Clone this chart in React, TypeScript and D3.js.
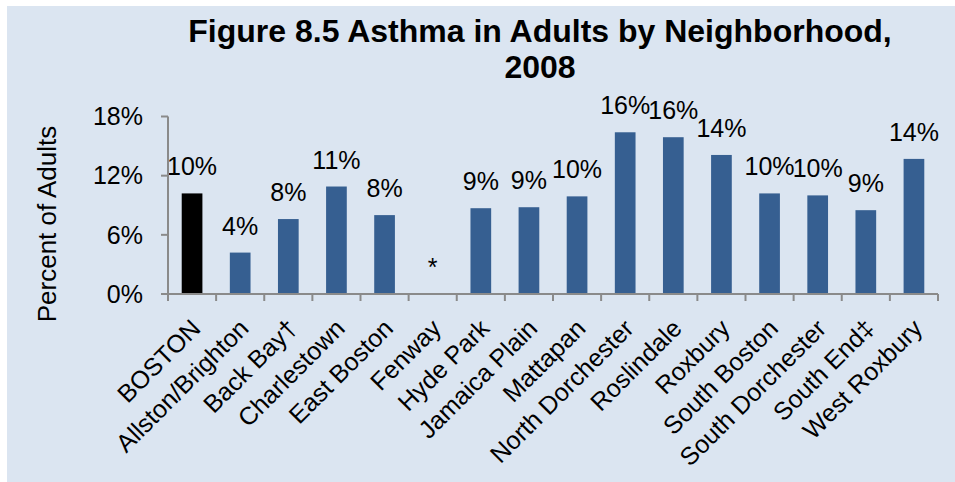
import React from "react";
import * as d3 from "d3";

const categories = [
  "BOSTON",
  "Allston/Brighton",
  "Back Bay†",
  "Charlestown",
  "East Boston",
  "Fenway",
  "Hyde Park",
  "Jamaica Plain",
  "Mattapan",
  "North Dorchester",
  "Roslindale",
  "Roxbury",
  "South Boston",
  "South Dorchester",
  "South End‡",
  "West Roxbury",
];

const values: (number | null)[] = [
  10.2, 4.2, 7.6, 10.9, 8.0, null, 8.7, 8.8, 9.9, 16.4, 15.9, 14.1, 10.2, 10.0, 8.5, 13.7,
];

const yTicks = [0, 6, 12, 18];

const titleLines = ["Figure 8.5 Asthma in Adults by Neighborhood,", "2008"];
const yAxisTitle = "Percent of Adults";

const W = 955;
const H = 482;
const FONT = "'Liberation Sans', Arial, sans-serif";

export default function App() {
  const x = d3.scaleBand<string>().domain(categories).range([168, 938]).paddingInner(0).paddingOuter(0);
  const y = d3.scaleLinear().domain([0, 18]).range([294, 116.5]);
  const bw = x.bandwidth() * 0.43;
  const axisY = y(0);
  const gridColor = "#8A8A8A";

  const boundaries = d3.range(categories.length + 1).map((i) => 168 + i * x.step());

  return (
    <svg width={W} height={H} style={{ position: "absolute", left: 0, top: 0 }} fontFamily={FONT}>
      <rect x={0} y={0} width={W} height={H} fill="#ffffff" />
      <rect x={7} y={6} width={W - 7} height={H - 6} fill="#DBE5F1" />

      {titleLines.map((t, i) => (
        <text key={i} x={540} y={42 + i * 36} textAnchor="middle" fontSize={32} fontWeight="bold" fill="#000">
          {t}
        </text>
      ))}

      <text
        transform={`translate(56,224) rotate(-90)`}
        textAnchor="middle"
        fontSize={26}
        fill="#000"
      >
        {yAxisTitle}
      </text>

      {yTicks.map((t) => (
        <g key={t}>
          <line x1={161} x2={168} y1={y(t)} y2={y(t)} stroke={gridColor} strokeWidth={2} />
          <text x={143} y={y(t)} dy="0.35em" textAnchor="end" fontSize={25} fill="#000">
            {t}%
          </text>
        </g>
      ))}

      {categories.map((c, i) => {
        const v = values[i];
        const cx = (x(c) as number) + x.step() / 2;
        const top = y(v ?? 0);
        return (
          <g key={c}>
            {v !== null && (
              <rect
                x={cx - bw / 2}
                y={top}
                width={bw}
                height={axisY - top}
                fill={i === 0 ? "#000000" : "#365F91"}
              />
            )}
            <text x={cx} y={top - 18} textAnchor="middle" fontSize={25} fill="#000">
              {v === null ? "*" : `${Math.round(v)}%`}
            </text>
            <text
              transform={`translate(${cx + 10},${axisY + 36}) rotate(-45)`}
              textAnchor="end"
              fontSize={25}
              fill="#000"
            >
              {c}
            </text>
          </g>
        );
      })}

      <line x1={168} x2={168} y1={y(18)} y2={axisY + 1} stroke={gridColor} strokeWidth={2} />
      <line x1={161} x2={938} y1={axisY} y2={axisY} stroke={gridColor} strokeWidth={2} />
      {boundaries.map((bx, i) => (
        <line key={i} x1={bx} x2={bx} y1={axisY} y2={axisY + 7} stroke={gridColor} strokeWidth={2} />
      ))}
    </svg>
  );
}
